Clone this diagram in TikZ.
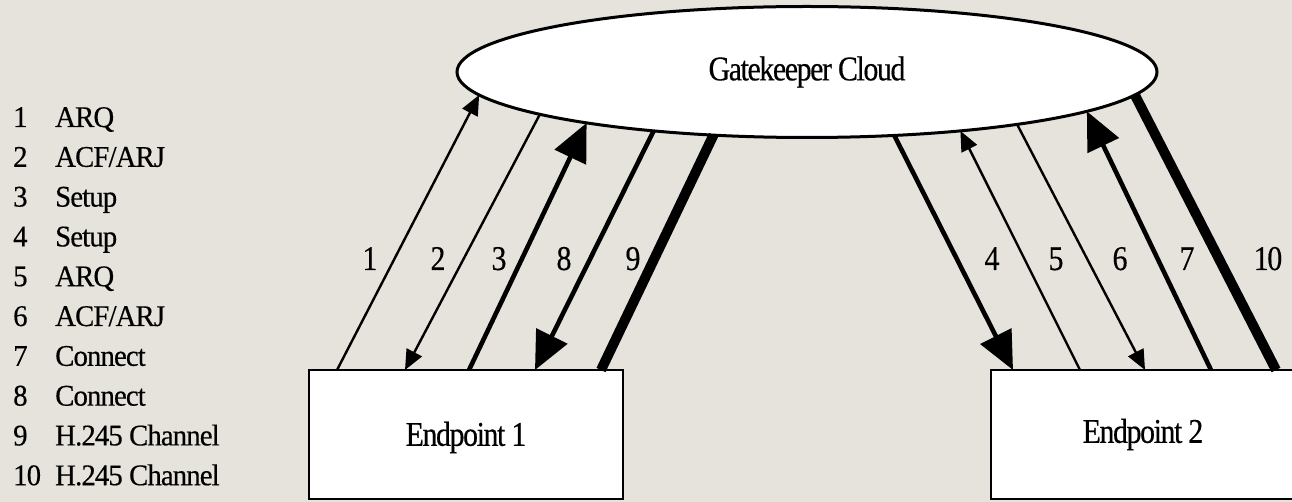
\documentclass[tikz,border=0pt]{standalone}
\usepackage{fontspec}
\newfontfamily\diafont[FakeStretch=0.86,LetterSpace=-4,FakeBold=0.4]{Liberation Serif}
\newfontfamily\legfont[FakeStretch=0.96,LetterSpace=-3,FakeBold=0.4]{Liberation Serif}
\usetikzlibrary{calc,shapes.geometric,arrows.meta}
\definecolor{bgcol}{RGB}{229,227,219}

\begin{document}
\begin{tikzpicture}[x=1pt,y=-1pt,
        box/.style={draw,fill=white,line width=2pt,minimum width=314pt,minimum height=129pt,
                inner sep=0pt,outer sep=0pt,font=\diafont\fontsize{34.7}{40}\selectfont},
        ras/.style={line width=2.4pt,-{Triangle[length=20pt,width=17pt]}},
        callsig/.style={line width=4.6pt,-{Triangle[length=38pt,width=34pt]}},
        hchan/.style={line width=10pt},
        num/.style={anchor=base,inner sep=0pt,font=\diafont\fontsize{34.7}{40}\selectfont},
        leg/.style={anchor=base west,inner sep=0pt,font=\legfont\fontsize{30}{36}\selectfont}]

        %background
        \useasboundingbox (0,0) rectangle (1292,502);
        \fill[bgcol] (0,0) rectangle (1292,502);

        %cloud and endpoints
        \node[ellipse,draw,fill=white,line width=3pt,minimum width=700pt,minimum height=131pt,
                inner sep=0pt,outer sep=0pt,font=\diafont\fontsize{34.7}{40}\selectfont] (gk) at (807,72) {Gatekeeper Cloud};
        \node[box,text height=30pt] (ep1) at (466,434.5) {Endpoint 1\hspace{18pt}};
        \node[box,minimum width=304pt] (ep2) at (1143,434.5) {Endpoint 2};

        %endpoint 1 <-> gatekeeper
        \draw[ras] ($(ep1.north west)+(28,0)$) -- (gk.-176.7);
        \draw[ras] (gk.-171.8) -- ($(ep1.north west)+(96,0)$);
        \draw[callsig] ($(ep1.north west)+(160,0)$) -- (gk.-167);
        \draw[callsig] (gk.-159.5) -- ($(ep1.north west)+(226,0)$);
        \draw[hchan] ($(ep1.north west)+(292,0)$) -- (gk.-146);

        %gatekeeper <-> endpoint 2
        \draw[callsig] (gk.-36.2) -- ($(ep2.north west)+(22,0)$);
        \draw[ras] ($(ep2.north west)+(89,0)$) -- (gk.-21.7);
        \draw[ras] (gk.-14) -- ($(ep2.north west)+(154,0)$);
        \draw[callsig] ($(ep2.north west)+(220,0)$) -- (gk.-8.9);
        \draw[hchan] (gk.-4.8) -- ($(ep2.north west)+(285,0)$);

        %numbers
        \foreach \n/\x in {1/370,2/438,3/499,8/564,9/633,4/992,5/1056,6/1120,7/1187,10/1268}
        \node[num] (l\n) at (\x,270) {\n};

        %legend
        \foreach \n/\msg in {1/ARQ,2/{ACF/ARJ},3/Setup,4/Setup,5/ARQ,6/{ACF/ARJ},7/Connect,8/Connect,9/{H.245 Channel},10/{H.245 Channel}}{
        	\node[leg] (k\n) at (13,{127+(\n-1)*39.8}) {\n};
        	\node[leg] (m\n) at (55,{127+(\n-1)*39.8}) {\msg};
        }

\end{tikzpicture}
\end{document}
